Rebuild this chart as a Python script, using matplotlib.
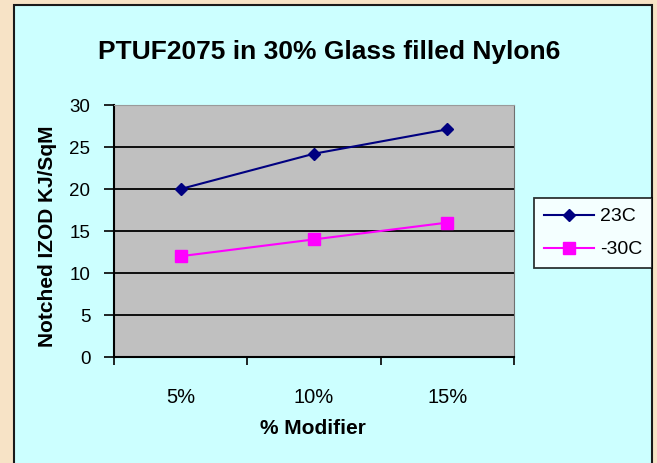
import matplotlib
matplotlib.use('Agg')
import matplotlib.pyplot as plt
from matplotlib.patches import Rectangle

# data
categories = ['5%', '10%', '15%']
temp_23c = [20, 24.2, 27.1]
temp_m30c = [12, 14, 16]
series_names = ['23C', '-30C']
y_ticks = [0, 5, 10, 15, 20, 25, 30]

W, H = 657, 463
fig = plt.figure(figsize=(W / 100, H / 100), dpi=100)
fig.patch.set_facecolor('#F7E3C6')
plt.rcParams['font.family'] = ['Liberation Sans', 'DejaVu Sans']

# cyan chart panel with dark border
panel = Rectangle((14 / W, -0.02), (652 - 14) / W, (H - 5) / H + 0.02,
                  transform=fig.transFigure, facecolor='#CCFFFF',
                  edgecolor='#1a1a1a', linewidth=1.5, zorder=0)
fig.add_artist(panel)

ax = fig.add_axes([114 / W, (H - 357) / H, 400 / W, 252 / H])
ax.set_facecolor('#C0C0C0')

x = list(range(len(categories)))
ax.plot(x, temp_23c, color='#000080', lw=1.5, marker='D', ms=6,
        label=series_names[0], zorder=3)
ax.plot(x, temp_m30c, color='#FF00FF', lw=1.5, marker='s', ms=8,
        label=series_names[1], zorder=3)

ax.set_xlim(-0.5, len(categories) - 0.5)
ax.set_ylim(0, 30)
ax.set_yticks(y_ticks)
ax.set_yticklabels([str(v) for v in y_ticks], fontsize=13.5)
for v in y_ticks[1:-1]:
    ax.axhline(v, color='black', lw=1.3, zorder=1)

# category axis: ticks between categories, labels centred
ax.set_xticks([i - 0.5 for i in range(len(categories) + 1)])
ax.set_xticklabels([])
ax.set_xticks(x, minor=True)
ax.set_xticklabels(categories, minor=True, fontsize=14.5)
ax.tick_params(axis='x', which='minor', length=0, pad=22)
ax.tick_params(axis='x', which='major', length=6, width=1.2, direction='out')
ax.tick_params(axis='y', length=7, width=1.2, direction='out', pad=10)

ax.spines['left'].set_color('black')
ax.spines['left'].set_linewidth(1.5)
ax.spines['bottom'].set_color('black')
ax.spines['bottom'].set_linewidth(1.5)
ax.spines['top'].set_color('#9a9a9a')
ax.spines['right'].set_color('#707070')

fig.text(329 / W, (H - 52) / H, 'PTUF2075 in 30% Glass filled Nylon6',
         ha='center', va='center', fontsize=19, fontweight='bold')
fig.text(48 / W, (H - 236) / H, 'Notched IZOD KJ/SqM', rotation=90,
         ha='center', va='center', fontsize=15, fontweight='bold')
fig.text(313 / W, (H - 428) / H, '% Modifier',
         ha='center', va='center', fontsize=15, fontweight='bold')

leg = fig.legend(loc='upper left', bbox_to_anchor=(534 / W, (H - 198) / H),
                 borderaxespad=0, fontsize=14, frameon=True, fancybox=False,
                 handlelength=2.6, borderpad=0.5, labelspacing=0.8,
                 handletextpad=0.3)
leg.get_frame().set_edgecolor('black')
leg.get_frame().set_linewidth(1.3)
leg.get_frame().set_facecolor('white')

fig.savefig('out.png', dpi=100, facecolor=fig.get_facecolor())
